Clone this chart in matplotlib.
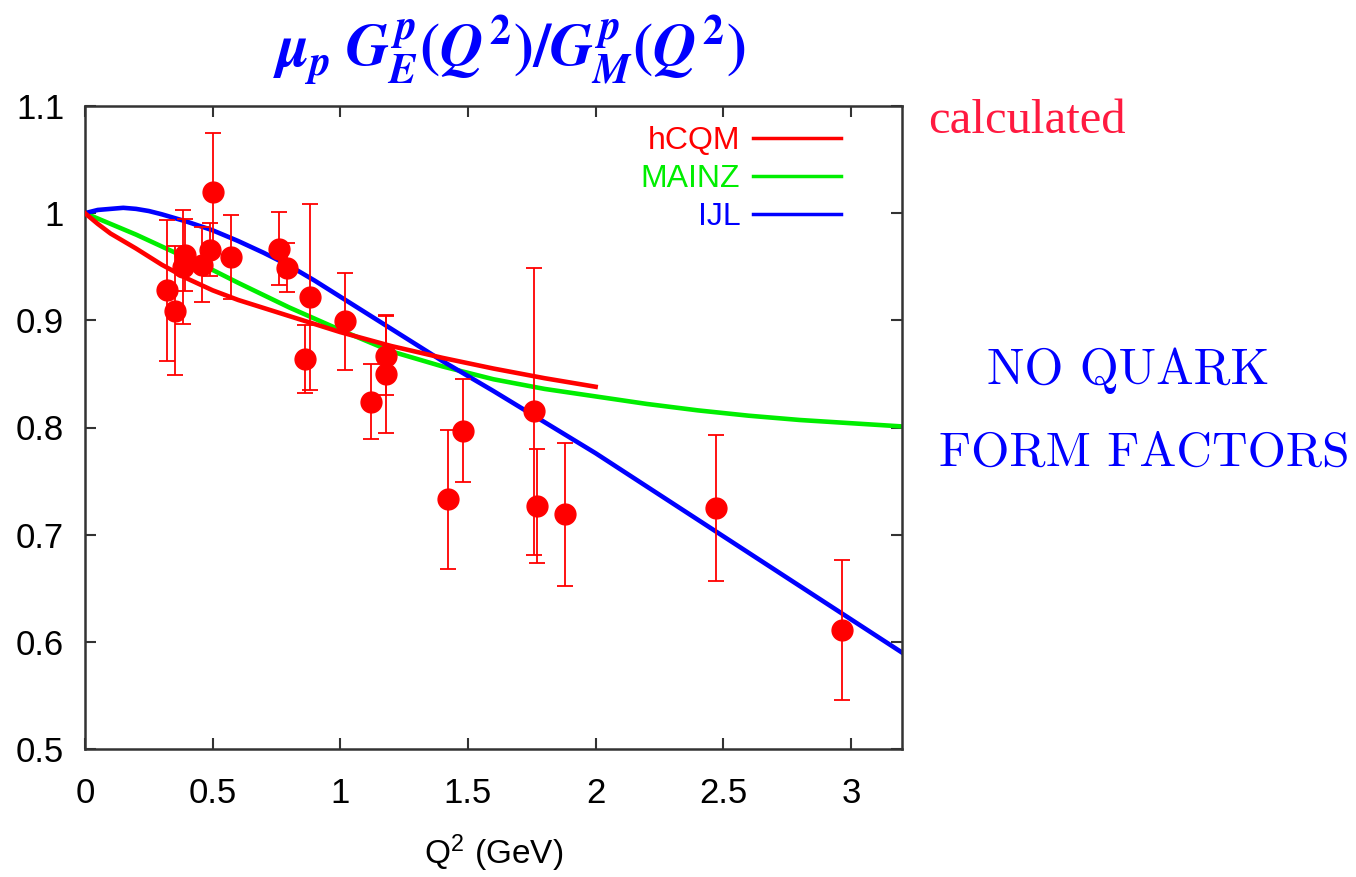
import numpy as np
import matplotlib
matplotlib.use('Agg')
import matplotlib.pyplot as plt

plt.rcParams['font.family'] = ['Liberation Sans', 'DejaVu Sans']
plt.rcParams['mathtext.fontset'] = 'custom'
plt.rcParams['mathtext.it'] = 'STIXGeneral:italic:bold'
plt.rcParams['mathtext.rm'] = 'STIXGeneral:bold'

# measured ratio mu_p GE/GM with errors
q2_data = [0.32, 0.352, 0.383, 0.39, 0.46, 0.50, 0.49, 0.57, 0.76, 0.79, 0.88, 0.86,
           1.02, 1.18, 1.18, 1.12, 1.48, 1.42, 1.76, 1.77, 1.88, 2.47, 2.965]
ratio_data = [0.928, 0.909, 0.950, 0.961, 0.952, 1.020, 0.966, 0.959, 0.967, 0.949, 0.922, 0.864,
              0.899, 0.867, 0.850, 0.824, 0.797, 0.733, 0.815, 0.727, 0.719, 0.725, 0.611]
ratio_err = [0.066, 0.060, 0.053, 0.034, 0.035, 0.055, 0.025, 0.039, 0.034, 0.023, 0.087, 0.032,
             0.045, 0.037, 0.055, 0.035, 0.048, 0.065, 0.134, 0.053, 0.067, 0.068, 0.065]

# model curves
q2_hcqm = [0, 0.05, 0.1, 0.15, 0.2, 0.3, 0.4, 0.5, 0.6, 0.8, 1.0, 1.2, 1.4, 1.6, 1.8, 2.0]
r_hcqm = [1.000, 0.990, 0.981, 0.974, 0.967, 0.952, 0.939, 0.928, 0.919, 0.904, 0.889, 0.876,
          0.865, 0.855, 0.846, 0.838]

q2_mainz = [0, 0.1, 0.2, 0.3, 0.4, 0.5, 0.6, 0.8, 1.0, 1.2, 1.4, 1.6, 1.8, 2.0, 2.2, 2.4,
            2.6, 2.8, 3.0, 3.2]
r_mainz = [1.000, 0.990, 0.980, 0.969, 0.958, 0.947, 0.935, 0.912, 0.891, 0.871, 0.857, 0.845,
           0.836, 0.829, 0.822, 0.816, 0.811, 0.807, 0.804, 0.801]

q2_ijl = [0, 0.05, 0.1, 0.15, 0.2, 0.25, 0.3, 0.4, 0.5, 0.6, 0.7, 0.8, 0.9, 1.0, 1.1, 1.2, 1.3,
          1.4, 1.5, 1.6, 1.8, 2.0, 2.2, 2.4, 2.6, 2.8, 3.0, 3.2]
r_ijl = [1.000, 1.003, 1.004, 1.005, 1.004, 1.002, 0.999, 0.992, 0.984, 0.974, 0.963, 0.951,
         0.937, 0.922, 0.907, 0.892, 0.877, 0.862, 0.848, 0.834, 0.805, 0.776, 0.745, 0.714,
         0.683, 0.652, 0.621, 0.590]

fig = plt.figure(figsize=(13.56, 8.77), dpi=100)
ax = fig.add_axes([85 / 1356, 1 - 749 / 877, (902 - 85) / 1356, (749 - 106) / 877])

ax.plot(q2_hcqm, r_hcqm, color='#ff0000', lw=3.3, label='hCQM', zorder=3)
ax.plot(q2_mainz, r_mainz, color='#00ee00', lw=3.3, label='MAINZ', zorder=2)
ax.plot(q2_ijl, r_ijl, color='#0000ff', lw=3.3, label='IJL', zorder=2)

ax.errorbar(q2_data, ratio_data, yerr=ratio_err, fmt='o', color='#ff0000', ms=15,
            elinewidth=1.3, capsize=6, capthick=1.3, zorder=4)

ax.set_xlim(0, 3.2)
ax.set_ylim(0.5, 1.1)
ax.set_xticks([0, 0.5, 1, 1.5, 2, 2.5, 3])
ax.set_xticklabels(['0', '0.5', '1', '1.5', '2', '2.5', '3'])
ax.set_yticks([0.5, 0.6, 0.7, 0.8, 0.9, 1.0, 1.1])
ax.set_yticklabels(['0.5', '0.6', '0.7', '0.8', '0.9', '1', '1.1'])
ax.tick_params(axis='both', direction='in', length=8, width=1.5, top=True, right=True,
               labelsize=25, colors='#333333', labelcolor='black')
ax.tick_params(axis='x', pad=20)
ax.tick_params(axis='y', pad=15)
for s in ax.spines.values():
    s.set_linewidth(1.8)
    s.set_color('#333333')

ax.set_xlabel('Q$^{\\mathregular{2}}$ (GeV)', fontsize=24, labelpad=16)
ax.set_title(r'$\mu_p\;G_E^p(Q^2)/G_M^p(Q^2)$', color='#0000ff', fontsize=43, pad=28, x=0.52)

leg = ax.legend(loc='upper right', bbox_to_anchor=(841 / 1356, 1 - 126 / 877),
                bbox_transform=fig.transFigure, frameon=False, markerfirst=False,
                fontsize=23, handlelength=2.75, labelspacing=0.25, handletextpad=0.4,
                borderpad=0, borderaxespad=0, labelcolor='linecolor')
for line in leg.get_lines():
    line.set_linewidth(2.5)

fig.text(928 / 1356, 1 - 133 / 877, 'calculated', color='#ff1a40', fontsize=35,
         family='Liberation Serif', ha='left', va='baseline')
fig.text(1128 / 1356, 1 - 384 / 877, 'NO QUARK', color='#0000ff', fontsize=36,
         family='cmr10', ha='center', va='baseline')
fig.text(1144 / 1356, 1 - 466 / 877, 'FORM FACTORS', color='#0000ff', fontsize=35.5,
         family='cmr10', ha='center', va='baseline')

plt.savefig('out.png', dpi=100)
